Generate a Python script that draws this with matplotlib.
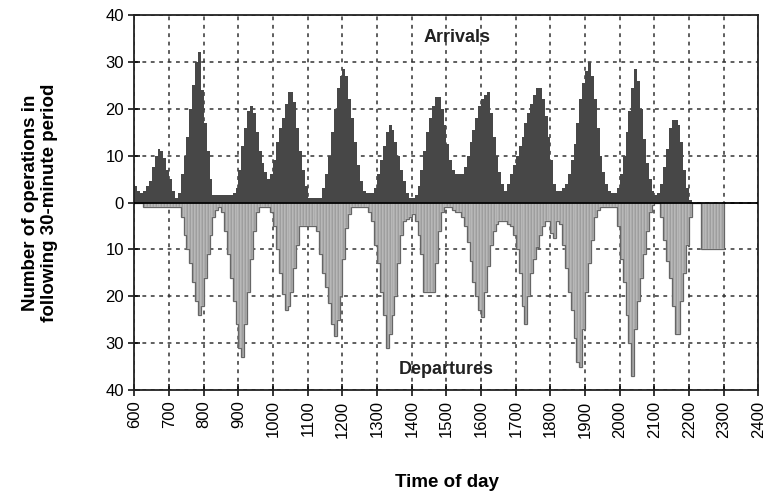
import numpy as np
import matplotlib
matplotlib.use("Agg")
import matplotlib.pyplot as plt

plt.rcParams['font.family'] = ['Liberation Sans', 'DejaVu Sans']

# operations counted in the following 30-minute window, sampled every 5 minutes from 6:00
start_hour = 6
step_min = 5

arrivals = [
    3.5, 2.5, 2, 2.5, 3.5, 4.5, 7.5, 10, 11.5, 11, 9.5, 7,        # 6
    5, 2.5, 1, 2, 6, 10, 14, 20, 25, 30, 32, 24,                  # 7
    17, 11, 5, 1.5, 1.5, 1.5, 1.5, 1.5, 1.5, 1.5, 2, 3,           # 8
    7, 12, 16, 19.5, 20.5, 19, 15, 11, 8.5, 6.5, 5, 6,            # 9
    9, 13, 16, 18, 21, 23.5, 23.5, 21.5, 16, 11, 7, 3.5,          # 10
    1, 1, 1, 1, 1, 3, 6, 10, 15, 20, 24.5, 27,                    # 11
    28.5, 27, 22, 18, 13, 8, 4.5, 2.5, 2, 2, 2, 3,                # 12
    6, 9, 12, 15, 16.5, 15.5, 13, 10, 7, 4.5, 2, 1,               # 13
    1, 1.5, 3.5, 7, 11, 15, 18, 20.5, 22.5, 22.5, 20, 16.5,       # 14
    12.5, 9, 7, 6, 6, 6, 7.5, 10, 13, 15.5, 18, 20.5,             # 15
    22, 23, 23.5, 19, 14, 10, 6.5, 4, 2.5, 4, 6, 8,               # 16
    10, 12, 14, 17, 19, 21, 23, 24.5, 24.5, 22, 18.5, 14,         # 17
    9, 4, 2.5, 2.5, 3, 4, 6, 9, 12.5, 17, 22, 25.5,               # 18
    28, 30, 27, 22, 16, 10, 6.5, 4, 2.5, 2, 2, 3,                 # 19
    6, 10, 15, 19.5, 24.5, 28.5, 26, 20, 13.5, 8.5, 5, 2.5,       # 20
    1.5, 2, 4, 7.5, 11.5, 16, 17.5, 17.5, 16.5, 13, 7, 3,         # 21
    0.5, 0, 0, 0, 0, 0, 0, 0, 0, 0, 0, 0,                         # 22
]

departures = [
    0, 0, 0, 1, 1, 1, 1, 1, 1, 1, 1, 1,                           # 6
    1, 1, 1, 1, 3, 7, 10, 13, 17, 21, 24, 22,                     # 7
    16, 11, 7, 3, 1.5, 1, 2, 6, 11, 16, 21, 26,                   # 8
    31, 33, 26, 19, 12, 6, 2, 1, 1, 1, 1, 2,                      # 9
    5, 10, 15, 19.5, 23, 22, 19, 14, 9, 5, 5, 5,                  # 10
    5, 5, 5, 6, 11, 15, 18, 21.5, 26, 28.5, 25, 20,               # 11
    12, 5.5, 2.5, 1, 1, 1, 1, 1, 1, 2, 4, 9,                      # 12
    13, 19, 24, 31, 28, 24, 20, 13, 7, 4, 3.5, 3,                 # 13
    2.5, 4, 7, 11, 19, 19, 19, 19, 13, 6, 2, 1,                   # 14
    1, 1, 1.5, 2, 2, 3, 5, 8.5, 12.5, 17, 20, 23,                 # 15
    24.5, 19, 13.5, 9, 6, 4.5, 4, 4, 4, 4.5, 5, 7,                # 16
    10, 15, 22, 26, 20, 15, 12, 9.5, 7, 5, 4, 4,                  # 17
    6.5, 7.5, 4, 4.5, 9, 14, 19, 23, 29, 34, 35, 27,              # 18
    19, 13, 8, 3, 1.5, 1, 1, 1, 1, 1, 1, 5,                       # 19
    12, 17, 24, 30, 37, 27, 21, 16, 11, 6, 2, 0.5,                # 20
    0, 0, 3, 8, 12.5, 16, 22, 28, 28, 21, 15, 9,                  # 21
    3, 0, 0, 0, 10, 10, 10, 10, 10, 10, 10, 10,                   # 22
]

hour_ticks = list(range(6, 25))
count_ticks = [-40, -30, -20, -10, 0, 10, 20, 30, 40]

arr = np.array(arrivals)
dep = np.array(departures)
edges = start_hour + np.arange(len(arr) + 1) * step_min / 60.0
left = edges[:-1]
w = step_min / 60.0

fig = plt.figure(figsize=(7.65, 4.95), dpi=100)
ax = fig.add_axes([0.1758, 0.2121, 0.8157, 0.7576])

ax.set_axisbelow(True)
ax.grid(True, color='#333333', linestyle=(0, (2.5, 3)), linewidth=1.1)

# arrivals above the line
ax.stairs(arr, edges, baseline=0, fill=True, color='#474747', zorder=2)

# departures below, as striped bars
ax.bar(left, -dep, width=w, align='edge', color='#9e9e9e', edgecolor='#e6e6e6',
       linewidth=0.3, zorder=2)
ax.stairs(-dep, edges, baseline=0, fill=False, color='#666666', linewidth=0.9, zorder=3)

ax.axhline(0, color='black', linewidth=1.3, zorder=4)

ax.set_xlim(6, 24)
ax.set_ylim(-40, 40)
ax.set_xticks(hour_ticks)
ax.set_xticklabels([str(h * 100) for h in hour_ticks], rotation=90, fontsize=12)
ax.set_yticks(count_ticks)
ax.set_yticklabels([str(abs(v)) for v in count_ticks], fontsize=12)
ax.tick_params(direction='inout', length=9, width=1.1, color='black', pad=3)
for s in ax.spines.values():
    s.set_linewidth(1.3)
    s.set_color('#222222')

ax.set_xlabel('Time of day', fontsize=13.5, fontweight='bold', labelpad=26)
ax.set_ylabel('Number of operations in\nfollowing 30-minute period', fontsize=13.5,
              fontweight='bold', labelpad=34, linespacing=1.15)

ax.text(15.3, 35.3, 'Arrivals', fontsize=13, fontweight='bold', ha='center', va='center',
        color='#222222', zorder=5)
ax.text(15.0, -35.6, 'Departures', fontsize=13, fontweight='bold', ha='center', va='center',
        color='#222222', zorder=5)

fig.savefig('out.png', dpi=100, facecolor='white')
